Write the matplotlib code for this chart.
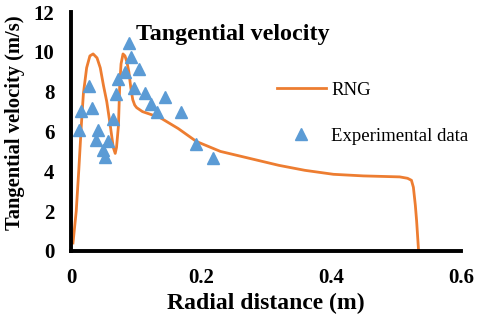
import matplotlib.pyplot as plt

plt.rcParams['font.family'] = ['Liberation Serif', 'DejaVu Serif']
plt.rcParams['font.weight'] = 'bold'

# RNG simulation curve
rng_x = [0.003, 0.008, 0.012, 0.016, 0.019, 0.024, 0.029, 0.034, 0.040, 0.045,
         0.050, 0.055, 0.060, 0.065, 0.068, 0.070, 0.073, 0.075, 0.077, 0.080,
         0.083, 0.086, 0.089, 0.092, 0.095, 0.098, 0.101, 0.110, 0.137, 0.165,
         0.193, 0.230, 0.275, 0.320, 0.360, 0.404, 0.450, 0.506, 0.518, 0.524,
         0.527, 0.530, 0.532, 0.535]
rng_y = [0.4, 2.0, 4.1, 6.4, 7.9, 9.2, 9.8, 9.9, 9.7, 9.2,
         8.3, 7.5, 6.4, 5.2, 4.9, 5.2, 6.3, 8.4, 9.4, 9.9,
         9.8, 9.5, 9.0, 8.2, 7.6, 7.33, 7.2, 7.0, 6.7, 6.15,
         5.5, 5.0, 4.65, 4.3, 4.05, 3.85, 3.77, 3.72, 3.65, 3.55,
         3.2, 2.3, 1.5, 0.0]

# experimental data points
exp_x = [0.012, 0.015, 0.027, 0.033, 0.038, 0.042, 0.049, 0.053, 0.057, 0.065,
         0.069, 0.073, 0.083, 0.089, 0.092, 0.097, 0.104, 0.114, 0.123, 0.133,
         0.144, 0.169, 0.192, 0.218]
exp_y = [6.08, 7.03, 8.3, 7.2, 5.58, 6.08, 5.08, 4.7, 5.5, 6.63,
         7.9, 8.64, 9.0, 10.43, 9.73, 8.2, 9.15, 7.92, 7.37, 6.97,
         7.75, 6.97, 5.38, 4.66]

fig = plt.figure(figsize=(4.8, 3.28), dpi=100)
ax = fig.add_axes([0.148, 0.235, 0.812, 0.728])

ax.plot(rng_x, rng_y, color='#ED7D31', lw=2, label='RNG')
ax.plot(exp_x, exp_y, '^', color='#5B9BD5', ms=8, mec='#5B9BD5', label='Experimental data')

ax.set_xlim(0, 0.6)
ax.set_ylim(0, 12)
ax.set_xticks([0, 0.2, 0.4, 0.6])
ax.set_xticklabels(['0', '0.2', '0.4', '0.6'])
ax.set_yticks(range(0, 13, 2))
ax.tick_params(axis='y', length=0, labelsize=15, pad=12)
ax.tick_params(axis='x', length=0, labelsize=15, pad=12)
for s in ['top', 'right']:
    ax.spines[s].set_visible(False)
for s in ['left', 'bottom']:
    ax.spines[s].set_linewidth(2.8)
    ax.spines[s].set_color('black')

ax.set_xlabel('Radial distance (m)', fontsize=17, fontweight='bold', labelpad=4)
ax.set_ylabel('Tangential velocity (m/s)', fontsize=14.8, fontweight='bold')
ax.yaxis.set_label_coords(-0.118, 0.535)
ax.text(0.1, 10.6, 'Tangential velocity', fontsize=17.3, fontweight='bold')

leg = ax.legend(loc='upper left', bbox_to_anchor=(0.485, 0.78), frameon=False,
                prop={'family': 'Liberation Serif', 'weight': 'normal', 'size': 13.5},
                handlelength=2.6, labelspacing=1.55, handletextpad=0.3)

plt.savefig('out.png', dpi=100)
